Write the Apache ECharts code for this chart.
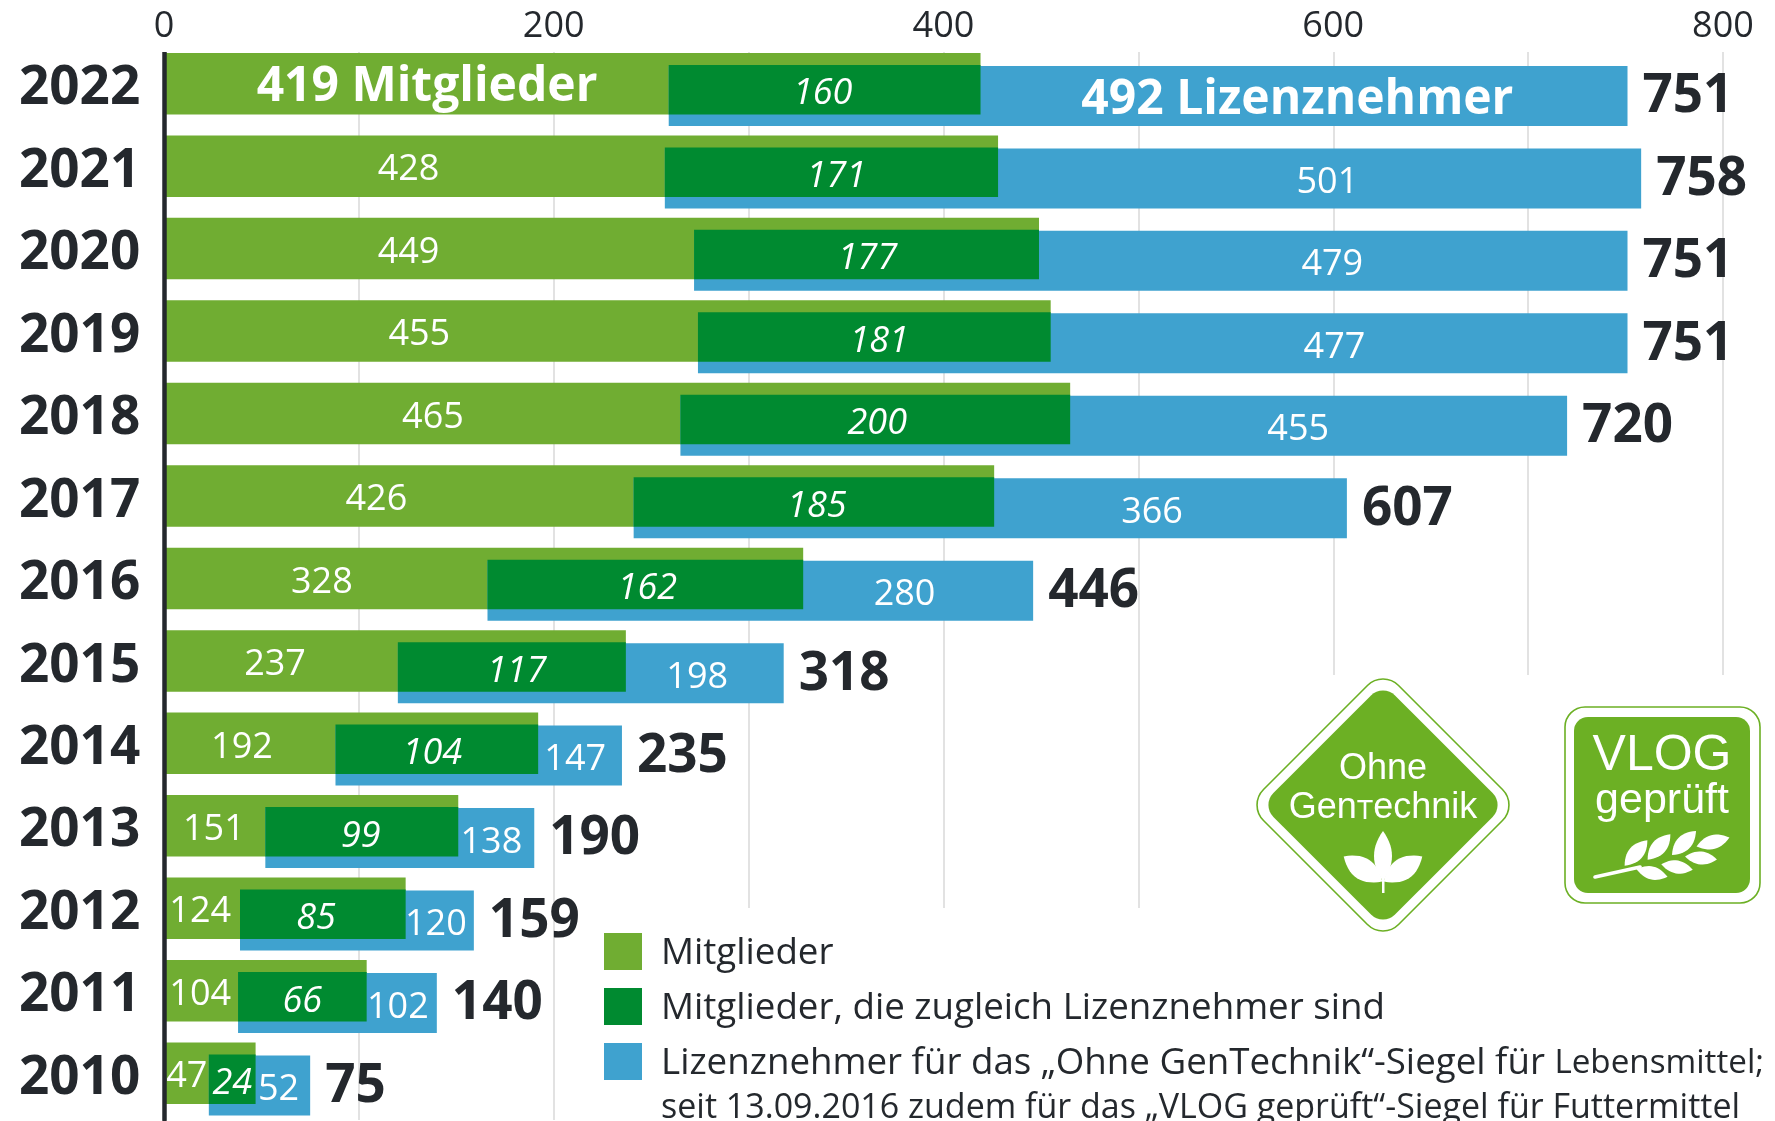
<!DOCTYPE html>
<html>
<head>
<meta charset="utf-8">
<script src="https://cdn.jsdelivr.net/npm/echarts@6/dist/echarts.min.js"></script>
<style>
html, body { margin: 0; padding: 0; background: #fff; overflow: hidden; }
#main { width: 1775px; height: 1121px; }
</style>
</head>
<body>
<div id="main"></div>
<script>
var years = ['2022', '2021', '2020', '2019', '2018', '2017', '2016', '2015', '2014', '2013', '2012', '2011', '2010'];
var members = [419, 428, 449, 455, 465, 426, 328, 237, 192, 151, 124, 104, 47];
var both = [160, 171, 177, 181, 200, 185, 162, 117, 104, 99, 85, 66, 24];
var licensees = [492, 501, 479, 477, 455, 366, 280, 198, 147, 138, 120, 102, 52];
var totals = [751, 758, 751, 751, 720, 607, 446, 318, 235, 190, 159, 140, 75];
var xTicks = [0, 200, 400, 600, 800];

var nameMembers = 'Mitglieder';
var nameBoth = 'Mitglieder, die zugleich Lizenznehmer sind';
var nameLicensees = 'Lizenznehmer für das „Ohne GenTechnik“-Siegel für Lebensmittel;';
var noteLine = 'seit 13.09.2016 zudem für das „VLOG geprüft“-Siegel für Futtermittel';

// the labels in the original are placed by hand, not centred (axis units)
var labelAt = {
    members: [135, 125.5, 125.5, 131, 138, 109, 81, 57, 40, 25.6, 18.6, 18.6, 11.7],
    both: [338, 345, 361, 367, 366, 335, 248, 181, 137.7, 101, 78, 71, 35],
    licensees: [581.6, 597, 599.5, 600.6, 582, 507, 380, 273.6, 211, 168, 139.5, 120, 58.8]
};

var FONT = '"Open Sans"';
var INK = '#24282d';
var GREEN = '#70ad32';
var DARK = '#008a30';
var BLUE = '#3fa2cf';
var LOGO = '#6cb024';

var dom = document.getElementById('main');
var chart = echarts.init(dom);

// one band of a row: y offsets are px from the row centre
function bandSeries(name, color, z, top, bottom, rows, labelY, labelStyle, extra) {
    return {
        type: 'custom',
        name: name,
        z: z,
        silent: true,
        itemStyle: { color: color },
        encode: { x: [1, 2], y: 0 },
        data: rows,
        renderItem: function (params, api) {
            var row = api.value(0);
            var start = api.coord([api.value(1), row]);
            var end = api.coord([api.value(2), row]);
            var label = api.coord([api.value(3), row]);
            var i = params.dataIndex;
            var kids = [{
                type: 'rect',
                shape: { x: start[0], y: start[1] + top, width: end[0] - start[0], height: bottom - top },
                style: { fill: color }
            }, {
                type: 'text',
                style: Object.assign({
                    x: label[0],
                    y: start[1] + labelY,
                    text: i === 0 && labelStyle.first ? labelStyle.first : String(api.value(4)),
                    fill: '#fff',
                    align: 'center',
                    verticalAlign: 'middle',
                    fontFamily: FONT,
                    fontSize: 36,
                    fontStyle: labelStyle.italic ? 'italic' : 'normal'
                }, i === 0 && labelStyle.first ? { fontSize: 48, fontWeight: 700 } : {})
            }];
            if (extra) kids.push(extra(api, end, start[1]));
            return { type: 'group', children: kids };
        }
    };
}

var memberRows = years.map(function (y, i) { return [i, 0, members[i], labelAt.members[i], members[i]]; });
var bothRows = years.map(function (y, i) { return [i, members[i] - both[i], members[i], labelAt.both[i], both[i]]; });
var licenseeRows = years.map(function (y, i) {
    return [i, members[i] - both[i], members[i] - both[i] + licensees[i], labelAt.licensees[i], licensees[i], totals[i]];
});

function totalLabel(api, end, cy) {
    return {
        type: 'text',
        style: {
            x: end[0] + 15,
            y: cy + 8,
            text: String(api.value(5)),
            fill: INK,
            align: 'left',
            verticalAlign: 'middle',
            fontFamily: FONT,
            fontSize: 53,
            fontWeight: 700
        }
    };
}

// pointed leaf for the seals, local coordinates, long axis on x
function leafPoints(len, w) {
    var top = [];
    var bottom = [];
    for (var k = 0; k <= 14; k++) {
        var t = k / 14;
        var x = -len + 2 * len * t;
        var y = w * 2 * t * (1 - t);
        top.push([x, -y]);
        bottom.unshift([x, y]);
    }
    return top.concat(bottom);
}

function leaf(x, y, len, w, deg) {
    return {
        type: 'polygon', z: 7, x: x, y: y, rotation: deg * Math.PI / 180,
        shape: { points: leafPoints(len, w) },
        style: { fill: '#fff' }
    };
}

function logoText(x, y, text, size, rich) {
    return {
        type: 'text', z: 7, x: x, y: y,
        style: {
            text: text, fill: '#fff', align: 'center', verticalAlign: 'middle',
            fontFamily: '"Liberation Sans"', fontSize: size, rich: rich
        }
    };
}

var mask = [
    { type: 'rect', z: 1, shape: { x: 600, y: 908, width: 1175, height: 213 }, style: { fill: '#fff' } },
    { type: 'rect', z: 1, shape: { x: 1250, y: 675, width: 525, height: 446 }, style: { fill: '#fff' } },
    // axis line and grid start a little below the grid top
    { type: 'rect', z: 6, shape: { x: 150, y: 45, width: 1625, height: 7 }, style: { fill: '#fff' } }
];

var seals = [
    // Ohne GenTechnik
    { type: 'rect', z: 5, x: 1383, y: 805, rotation: Math.PI / 4,
      shape: { x: -95.5, y: -95.5, width: 191, height: 191, r: 22 },
      style: { fill: '#fff', stroke: LOGO, lineWidth: 1.6 } },
    { type: 'rect', z: 5, x: 1383, y: 805, rotation: Math.PI / 4,
      shape: { x: -86, y: -86, width: 172, height: 172, r: 17 },
      style: { fill: LOGO } },
    logoText(1383, 769, 'Ohne', 36),
    logoText(1383, 808, '{a|Gen}{t|T}{a|echnik}', 36, {
        a: { fontFamily: '"Liberation Sans"', fontSize: 36, fill: '#fff' },
        t: { fontFamily: '"Liberation Sans"', fontSize: 27, fill: '#fff', padding: [7, 0, 0, 0] }
    }),
    leaf(1383, 856, 25, 18, 90),
    leaf(1363, 869, 23, 22, -33),
    leaf(1403, 869, 23, 22, 33),
    { type: 'rect', z: 7, shape: { x: 1382, y: 878, width: 2.5, height: 15 }, style: { fill: '#fff' } },
    // VLOG gepruft
    { type: 'rect', z: 5, shape: { x: 1565, y: 707, width: 195, height: 196, r: 20 },
      style: { fill: '#fff', stroke: LOGO, lineWidth: 1.6 } },
    { type: 'rect', z: 5, shape: { x: 1574, y: 717, width: 176, height: 176, r: 14 }, style: { fill: LOGO } },
    logoText(1662, 756, 'VLOG', 50),
    logoText(1662, 801, 'geprüft', 43),
    { type: 'line', z: 7, shape: { x1: 1595, y1: 877, x2: 1640, y2: 867 },
      style: { stroke: '#fff', lineWidth: 3.5, lineCap: 'round' } },
    leaf(1636, 853, 17, 15, 48),
    leaf(1659, 847, 17, 15, 48),
    leaf(1684, 843, 17, 15, 45),
    leaf(1713, 842, 17, 14, 15),
    leaf(1652, 873, 16, 13, -14),
    leaf(1677, 867, 16, 13, -10),
    leaf(1701, 858, 16, 13, -5)
];

var note = {
    type: 'text', z: 5, x: 661, y: 1108,
    style: { text: noteLine, fill: INK, verticalAlign: 'middle', fontFamily: FONT, fontSize: 34 }
};

var options = {
    animation: false,
    textStyle: { fontFamily: FONT },
    grid: { left: 164, top: 48, width: 1559, height: 1072, containLabel: false },
    xAxis: {
        type: 'value',
        position: 'top',
        min: 0,
        max: 800,
        interval: 100,
        axisLine: { show: false },
        axisTick: { show: false },
        axisLabel: {
            margin: 3,
            color: INK,
            fontFamily: FONT,
            fontSize: 36,
            hideOverlap: false,
            showMaxLabel: true,
            formatter: function (v) { return xTicks.indexOf(v) >= 0 ? String(v) : ''; }
        },
        splitLine: { show: true, lineStyle: { color: '#e2e2e2', width: 2 } }
    },
    yAxis: {
        type: 'category',
        data: years,
        inverse: true,
        z: 5,
        axisLine: { show: true, lineStyle: { color: INK, width: 4.5 } },
        axisTick: { show: false },
        splitLine: { show: false },
        axisLabel: {
            margin: 145,
            align: 'left',
            padding: [0, 0, 12, 0],
            color: INK,
            fontFamily: FONT,
            fontWeight: 700,
            fontSize: 53
        }
    },
    legend: {
        left: 604,
        top: 931,
        padding: 0,
        orient: 'vertical',
        icon: 'rect',
        itemWidth: 38,
        itemHeight: 37,
        itemGap: 14,
        selectedMode: false,
        data: [nameMembers, nameBoth, nameLicensees],
        textStyle: {
            color: INK,
            fontFamily: FONT,
            fontSize: 36.7,
            lineHeight: 37,
            padding: [4, 0, 0, 14],
            rich: {
                s: { color: INK, fontFamily: FONT, fontSize: 33.2, lineHeight: 37 }
            }
        },
        formatter: function (name) {
            return name === nameLicensees ? name.replace('Lebensmittel;', '{s|Lebensmittel;}') : name;
        }
    },
    graphic: { elements: mask.concat(seals, [note]) },
    series: [
        bandSeries(nameMembers, GREEN, 2, -36.3, 25.2, memberRows, -1.6, { first: '419 Mitglieder' }),
        bandSeries(nameLicensees, BLUE, 3, -23.3, 36.7, licenseeRows, 11, { first: '492 Lizenznehmer' }, totalLabel),
        bandSeries(nameBoth, DARK, 4, -24.3, 25.2, bothRows, 5, { italic: true })
    ]
};

chart.setOption(options);
</script>
</body>
</html>
